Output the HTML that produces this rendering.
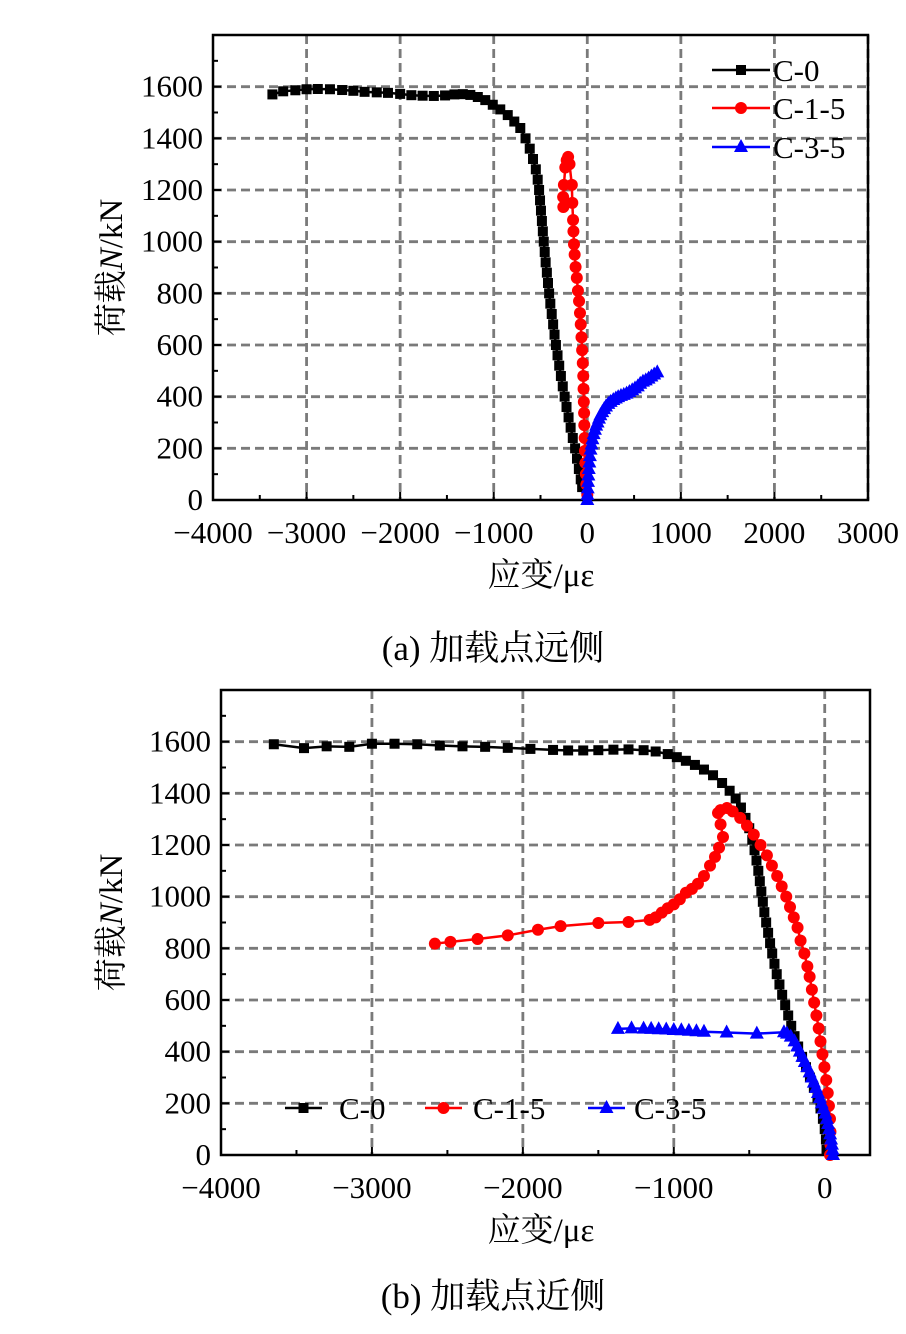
<!DOCTYPE html>
<html><head><meta charset="utf-8"><style>
body{margin:0;background:#fff;}
svg{display:block;font-family:"Liberation Serif","Noto Serif CJK SC",serif;}
</style></head><body>
<svg id="fig" width="906" height="1334" viewBox="0 0 906 1334"></svg>
<script>
// ---- Chart (a) data: [strain, load]
const aC0 = [[-3365,1570],[-3250,1582],[-3120,1586],[-3000,1590],[-2880,1591],[-2750,1590],[-2620,1587],[-2500,1584],[-2380,1580],[-2250,1578],[-2130,1576],[-2000,1572],[-1880,1567],[-1760,1565],[-1640,1564],[-1520,1566],[-1420,1570],[-1330,1571],[-1250,1568],[-1170,1560],[-1090,1548],[-1010,1530],[-930,1512],[-850,1490],[-780,1465],[-716,1440],[-660,1400],[-615,1360],[-580,1320],[-550,1280],[-530,1240],[-515,1200],[-505,1160],[-495,1120],[-485,1080],[-475,1040],[-465,1000],[-455,960],[-445,920],[-432,880],[-420,840],[-408,800],[-395,760],[-380,720],[-365,680],[-350,640],[-335,600],[-318,560],[-300,520],[-282,480],[-262,440],[-242,400],[-222,360],[-200,320],[-178,280],[-155,240],[-130,200],[-110,160],[-90,120],[-70,80],[-55,50]];
const aC15 = [[0,20],[-10,60],[-15,100],[-20,143],[-25,190],[-28,240],[-32,290],[-34,337],[-37,380],[-40,430],[-43,480],[-48,530],[-55,580],[-62,630],[-70,680],[-78,724],[-88,770],[-100,810],[-112,860],[-125,902],[-135,950],[-142,990],[-148,1040],[-152,1084],[-160,1150],[-165,1220],[-190,1300],[-205,1328],[-220,1315],[-235,1287],[-250,1220],[-258,1173],[-256,1134]];
const aC35 = [[0,0],[2,20],[5,45],[8,70],[12,95],[16,120],[22,145],[28,170],[35,195],[45,215],[55,235],[68,255],[82,272],[95,288],[110,300],[125,315],[140,328],[160,340],[180,352],[200,362],[225,372],[250,380],[278,387],[305,393],[330,398],[360,403],[390,407],[420,412],[450,418],[480,425],[510,432],[540,440],[566,450],[595,458],[625,463],[655,470],[685,478],[715,486],[748,494]];
// ---- Chart (b) data
const bC0 = [[-3650,1590],[-3450,1575],[-3300,1582],[-3150,1580],[-3000,1592],[-2850,1592],[-2700,1590],[-2550,1585],[-2400,1582],[-2250,1580],[-2100,1576],[-1950,1572],[-1800,1568],[-1700,1566],[-1600,1566],[-1500,1567],[-1400,1569],[-1300,1570],[-1200,1567],[-1120,1562],[-1040,1552],[-980,1540],[-920,1526],[-860,1510],[-800,1492],[-740,1470],[-680,1440],[-630,1410],[-590,1380],[-555,1345],[-525,1305],[-500,1265],[-480,1220],[-465,1180],[-452,1140],[-440,1100],[-430,1060],[-420,1020],[-410,980],[-400,940],[-388,900],[-375,860],[-362,820],[-348,780],[-333,740],[-318,700],[-300,660],[-282,620],[-262,580],[-242,540],[-222,500],[-200,460],[-176,420],[-150,380],[-124,340],[-98,300],[-72,260],[-48,220],[-28,180],[-12,140],[0,100],[8,60],[12,20]];
const bC15 = [[35,0],[38,40],[38,90],[35,140],[28,190],[20,240],[10,290],[-2,340],[-15,390],[-28,440],[-40,490],[-55,540],[-70,590],[-85,640],[-100,690],[-115,730],[-135,780],[-160,830],[-180,880],[-205,920],[-230,960],[-255,1000],[-285,1040],[-315,1080],[-350,1120],[-383,1160],[-425,1200],[-470,1240],[-515,1275],[-560,1305],[-610,1330],[-648,1343],[-690,1335],[-707,1324],[-690,1280],[-674,1231],[-700,1190],[-727,1154],[-760,1120],[-800,1080],[-840,1050],[-880,1030],[-920,1015],[-960,990],[-1000,970],[-1040,955],[-1080,938],[-1120,920],[-1160,910],[-1300,902],[-1500,898],[-1750,886],[-1900,872],[-2100,850],[-2300,836],[-2480,825],[-2583,818]];
const bC35 = [[55,0],[52,20],[48,40],[42,60],[36,80],[30,100],[22,120],[14,140],[4,160],[-8,180],[-20,200],[-32,220],[-45,240],[-58,260],[-72,280],[-86,300],[-100,320],[-116,340],[-132,360],[-148,380],[-165,400],[-182,420],[-200,440],[-225,458],[-250,470],[-270,475],[-450,470],[-650,474],[-800,477],[-850,479],[-900,481],[-950,483],[-1000,484],[-1050,486],[-1100,487],[-1150,488],[-1200,489],[-1280,490],[-1370,488]];
const aXTicks = [-4000,-3000,-2000,-1000,0,1000,2000,3000];
const aXLabels = ["\u22124000","\u22123000","\u22122000","\u22121000","0","1000","2000","3000"];
const bXTicks = [-4000,-3000,-2000,-1000,0];
const bXLabels = ["\u22124000","\u22123000","\u22122000","\u22121000","0"];
const yTicks = [0,200,400,600,800,1000,1200,1400,1600];

const NS="http://www.w3.org/2000/svg";
const svg=document.getElementById('fig');
function mk(tag,attrs,parent){const e=document.createElementNS(NS,tag);for(const k in attrs)e.setAttribute(k,attrs[k]);(parent||svg).appendChild(e);return e;}

function chart(cfg){
  const g=mk('g',{});
  
  
  const X=s=>cfg.x0+(s-cfg.xmin)/(cfg.xmax-cfg.xmin)*(cfg.x1-cfg.x0);
  const Y=n=>cfg.y1-(n/1800)*(cfg.y1-cfg.y0);
  for(const t of cfg.xt){ if(t===cfg.xmin) continue;
    const l=mk('line',{x1:X(t),x2:X(t),y1:cfg.y0,y2:cfg.y1,stroke:'#7a7a7a','stroke-width':2.8,'stroke-dasharray':'9,5'},g);
    
    
  }
  for(const t of yTicks){ if(t===0) continue;
    const l=mk('line',{x1:cfg.x0,x2:cfg.x1,y1:Y(t),y2:Y(t),stroke:'#7a7a7a','stroke-width':2.8,'stroke-dasharray':'9,5'},g);
    
    
  }
  for(let s=cfg.xmin;s<=cfg.xmax;s+=500){const maj=s%1000===0;
    mk('line',{x1:X(s),x2:X(s),y1:cfg.y1,y2:cfg.y1-(maj?8:5),stroke:'#000','stroke-width':2},g);}
  for(let n=0;n<=1800;n+=100){const maj=n%200===0;
    mk('line',{x1:cfg.x0,x2:cfg.x0+(maj?8:5),y1:Y(n),y2:Y(n),stroke:'#000','stroke-width':2},g);}
  const fr=mk('rect',{x:cfg.x0,y:cfg.y0,width:cfg.x1-cfg.x0,height:cfg.y1-cfg.y0,fill:'none',stroke:'#000','stroke-width':2.5},g);
  
  
  cfg.xt.forEach((t,i)=>{const tx=mk('text',{x:X(t),y:cfg.y1+43,'font-size':31,'text-anchor':'middle'},g);tx.textContent=cfg.xl[i];
    
    });
  yTicks.forEach(t=>{const tx=mk('text',{x:cfg.x0-10,y:Y(t)+10,'font-size':31,'text-anchor':'end'},g);tx.textContent=String(t);
    
    });
  const xt=mk('text',{x:cfg.xtitleX,y:cfg.y1+86,'font-size':33,'text-anchor':'middle'},g);
  xt.textContent='应变/με';
  
  
  const yt=mk('text',{x:0,y:0,'font-size':33,'text-anchor':'middle',transform:`translate(${cfg.ytitleX},${(cfg.y0+cfg.y1)/2}) rotate(-90)`},g);
  yt.innerHTML='荷载<tspan font-style="italic">N</tspan>/kN';
  
  
  const series=[[cfg.c0,'#000','sq','series-c-0'],[cfg.c15,'#f00','ci','series-c-1-5'],[cfg.c35,'#00f','tr','series-c-3-5']];
  for(const [d,col,m,nm] of series){
    const sg=mk('g',{},g);
    
    
    mk('polyline',{points:d.map(p=>X(p[0])+','+Y(p[1])).join(' '),fill:'none',stroke:col,'stroke-width':2.5},sg);
    d.forEach(p=>marker(sg,m,X(p[0]),Y(p[1]),col));
  }
  return g;
}
function marker(g,m,x,y,col){
  let e;
  if(m==='sq') e=mk('rect',{x:x-5,y:y-5,width:10,height:10,fill:col},g);
  else if(m==='ci') e=mk('circle',{cx:x,cy:y,r:6,fill:col},g);
  else e=mk('polygon',{points:`${x},${y-8} ${x-7},${y+5} ${x+7},${y+5}`,fill:col},g);
  
  
}
function legendItem(g,x1,x2,y,col,m,label,tx){
  const lg=mk('g',{},g);
  
  
  mk('line',{x1:x1,x2:x2,y1:y,y2:y,stroke:col,'stroke-width':2.5},lg);
  marker(lg,m,(x1+x2)/2,y,col);
  const t=mk('text',{x:tx,y:y+11,'font-size':31},lg);t.textContent=label;
}

const ga=chart({name:'chart-a',x0:213,x1:868,y0:35,y1:500,xmin:-4000,xmax:3000,xt:aXTicks,xl:aXLabels,c0:aC0,c15:aC15,c35:aC35,xtitleX:541,ytitleX:122});
legendItem(ga,712,770,70,'#000','sq','C-0',773);
legendItem(ga,712,770,108,'#f00','ci','C-1-5',773);
legendItem(ga,712,770,147,'#00f','tr','C-3-5',773);
const gb=chart({name:'chart-b',x0:221,x1:870,y0:690,y1:1155,xmin:-4000,xmax:300,xt:bXTicks,xl:bXLabels,c0:bC0,c15:bC15,c35:bC35,xtitleX:541,ytitleX:122});
legendItem(gb,285,322,1108,'#000','sq','C-0',339);
legendItem(gb,425,462,1108,'#f00','ci','C-1-5',473);
legendItem(gb,588,625,1108,'#00f','tr','C-3-5',634);

const ca=mk('text',{x:493,y:660,'font-size':35,'text-anchor':'middle'});
ca.textContent='(a)  加载点远侧';


const cb=mk('text',{x:493,y:1308,'font-size':35,'text-anchor':'middle'});
cb.textContent='(b)  加载点近侧';


</script>
</body></html>
